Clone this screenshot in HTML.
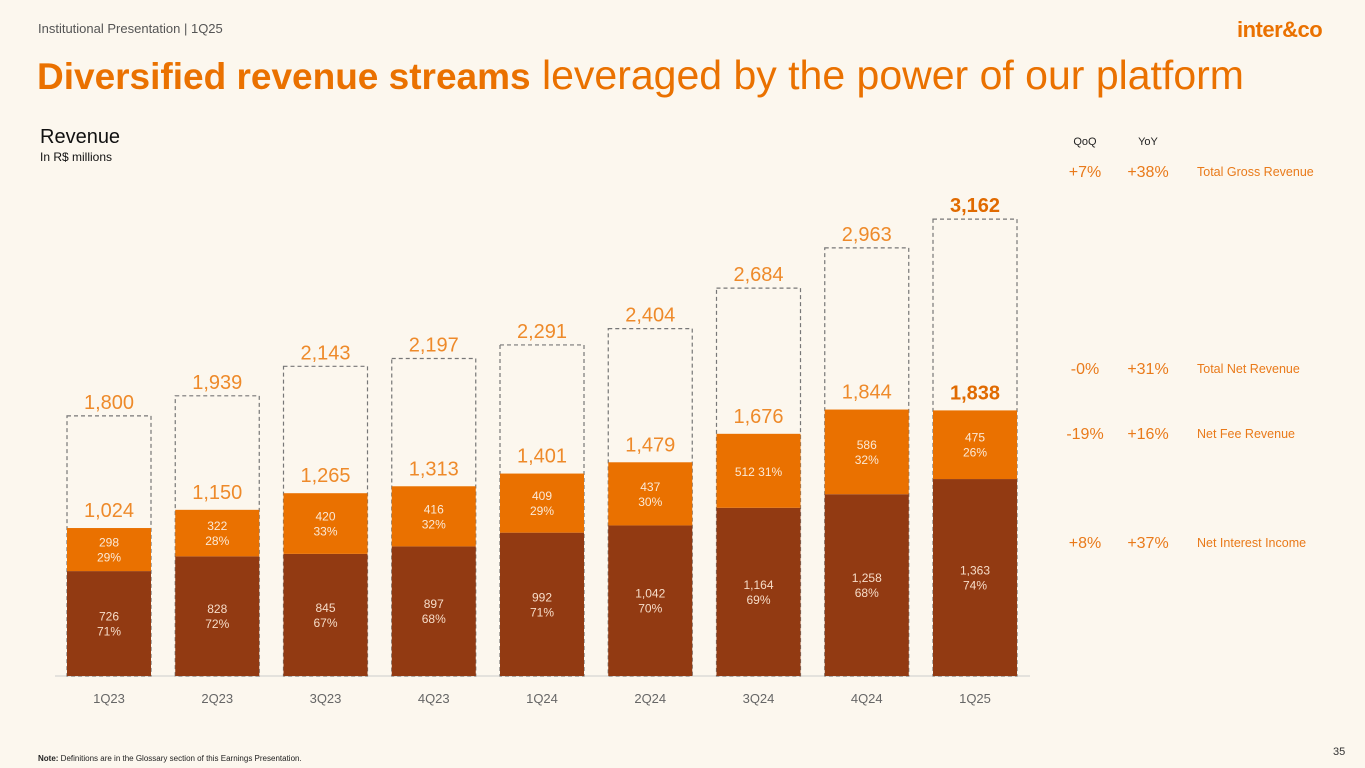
<!DOCTYPE html>
<html><head><meta charset="utf-8"><style>
body{margin:0;width:1365px;height:768px;background:#FCF7EE;font-family:"Liberation Sans",sans-serif;overflow:hidden;position:relative}
.a{position:absolute;white-space:nowrap}
</style></head><body>
<div class="a" style="left:38px;top:21px;font-size:13px;color:#555">Institutional Presentation | 1Q25</div>
<div class="a" style="left:1237px;top:17px;font-size:22px;font-weight:bold;color:#EA7100;letter-spacing:-0.5px">inter&amp;co</div>
<div class="a" style="left:37px;top:52px;font-size:41px;color:#EA7100"><b style="font-size:37px">Diversified revenue streams</b> leveraged by the power of our platform</div>
<div class="a" style="left:40px;top:126px;font-size:20px;color:#111">Revenue</div>
<div class="a" style="left:40px;top:150px;font-size:12px;color:#111">In R$ millions</div>
<div class="a" style="left:38px;top:754px;font-size:8px;color:#222"><b>Note:</b> Definitions are in the Glossary section of this Earnings Presentation.</div>
<div class="a" style="left:1333px;top:746px;font-size:11px;color:#333">35</div>
<svg id="chart" width="1365" height="768" style="position:absolute;left:0;top:0"></svg>
<script>
const categories=["1Q23","2Q23","3Q23","4Q23","1Q24","2Q24","3Q24","4Q24","1Q25"];
const grossRevenue=[1800,1939,2143,2197,2291,2404,2684,2963,3162];
const nii=[726,828,845,897,992,1042,1164,1258,1363];
const fee=[298,322,420,416,409,437,512,586,475];
const niiPct=["71%","72%","67%","68%","71%","70%","69%","68%","74%"];
const feePct=["29%","28%","33%","32%","29%","30%","31%","32%","26%"];
const summaryQoQ=["+7%","-0%","-19%","+8%"];
const summaryYoY=["+38%","+31%","+16%","+37%"];
const summaryLabels=["Total Gross Revenue","Total Net Revenue","Net Fee Revenue","Net Interest Income"];

const svg=document.getElementById('chart');const NS='http://www.w3.org/2000/svg';
const base=676,k=0.1445,bw=84;
const y=v=>base-v*k;const xc=i=>109+i*108.25;
const fmt=v=>v.toLocaleString('en-US');
function mk(t,a,p){const e=document.createElementNS(NS,t);for(const n in a)e.setAttribute(n,a[n]);(p||svg).appendChild(e);return e;}
function txt(x,yy,s,sz,fill,w,name){const e=mk('text',{x:x,y:yy,'font-size':sz,fill:fill,'text-anchor':'middle','font-family':'Liberation Sans, sans-serif','font-weight':w||'normal'});e.textContent=s;

return e;}
const ax=mk('line',{x1:55,x2:1030,y1:base,y2:base,stroke:'#ccc','stroke-width':1});


categories.forEach((c,i)=>{
 const cx=xc(i),x0=cx-bw/2,net=nii[i]+fee[i],last=i===categories.length-1;
 const d=mk('rect',{x:x0,y:y(grossRevenue[i]),width:bw,height:grossRevenue[i]*k,fill:'none',stroke:'#777','stroke-dasharray':'4,3','stroke-width':1.2});
 
 
 const r1=mk('rect',{x:x0,y:y(nii[i]),width:bw,height:nii[i]*k,fill:'#923A12'});
 
 
 const r2=mk('rect',{x:x0,y:y(net),width:bw,height:fee[i]*k,fill:'#EA7100'});
 
 
 const oc=last?'#E06A00':'#EE8A2A';
 txt(cx,y(grossRevenue[i])-7,fmt(grossRevenue[i]),20,oc,last?'bold':'normal','gross-label-'+c);
 txt(cx,y(net)-11,fmt(net),20,oc,last?'bold':'normal','net-label-'+c);
 const fm=y(net)+fee[i]*k/2;
 if(i===6){txt(cx,fm+5,fee[i]+' '+feePct[i],12,'#FBE9D6','normal','fee-label-'+c);}
 else{txt(cx,fm-3,fmt(fee[i]),12,'#FBE9D6','normal','fee-label-'+c);txt(cx,fm+12,feePct[i],12,'#FBE9D6','normal','fee-pct-'+c);}
 const nm=y(nii[i])+nii[i]*k/2;
 txt(cx,nm-3,fmt(nii[i]),12,'#F6DCC8','normal','nii-label-'+c);txt(cx,nm+12,niiPct[i],12,'#F6DCC8','normal','nii-pct-'+c);
 txt(cx,703,c,13,'#666','normal','x-tick-'+c);
});
txt(1085,145,'QoQ',11,'#222','normal','qoq-header');txt(1148,145,'YoY',11,'#222','normal','yoy-header');
const rowY=[177,374,439,548];
summaryLabels.forEach((l,i)=>{
 txt(1085,rowY[i],summaryQoQ[i],16,'#E97A1A','normal','qoq-'+i);
 txt(1148,rowY[i],summaryYoY[i],16,'#E97A1A','normal','yoy-'+i);
 const t=txt(1197,rowY[i]-1,l,12.5,'#E97A1A','normal','summary-label-'+i);t.setAttribute('text-anchor','start');
});
</script>
</body></html>
